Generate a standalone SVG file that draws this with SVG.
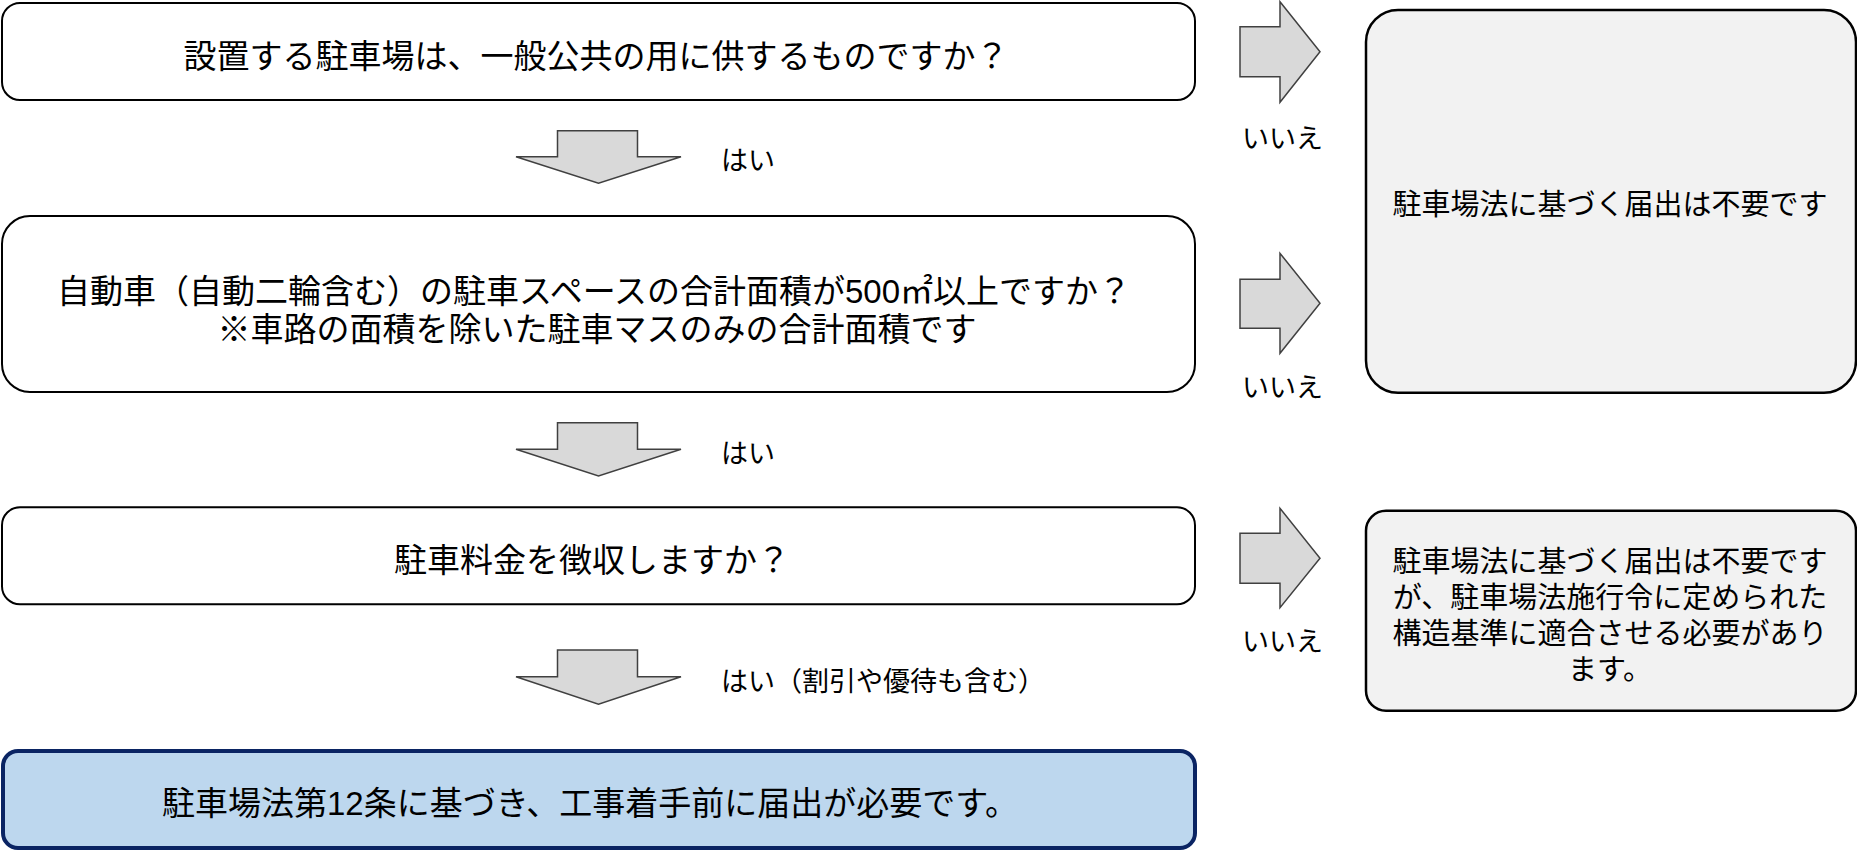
<svg xmlns="http://www.w3.org/2000/svg" width="1857" height="851" viewBox="0 0 1857 851">
<style>
.q{fill:#ffffff;stroke:#000000;stroke-width:2}
.g{fill:#f2f2f2;stroke:#000000;stroke-width:2.5}
.f{fill:#bdd7ee;stroke:#0a2463;stroke-width:4}
.ar{fill:#d9d9d9;stroke:#404040;stroke-width:1.5;stroke-linejoin:miter}
.t{font-family:"Liberation Sans","Noto Sans CJK JP",sans-serif;fill:#000000}
.m{font-size:33px;text-anchor:middle}
.s{font-size:29px;text-anchor:middle}
.l{font-size:27px}
</style>
<rect width="1857" height="851" fill="#ffffff"/>
<g id="connectors">
<polygon class="ar" points="557.5,130.7 637.5,130.7 637.5,156.7 681,156.7 598.5,183.3 516,156.7 557.5,156.7"/>
<polygon class="ar" points="557.5,422.7 637.5,422.7 637.5,449.3 681,449.3 598.5,476 516,449.3 557.5,449.3"/>
<polygon class="ar" points="557.5,650 637.5,650 637.5,676.7 681,676.7 598.5,704.3 516,676.7 557.5,676.7"/>
<polygon class="ar" points="1240,26.7 1280,26.7 1280,1.7 1320,51.7 1280,102.3 1280,76.7 1240,76.7"/>
<polygon class="ar" points="1240,279.3 1280,279.3 1280,253.3 1320,303.3 1280,353.3 1280,328.3 1240,328.3"/>
<polygon class="ar" points="1240,533.3 1280,533.3 1280,508.3 1320,558.3 1280,607.7 1280,583.3 1240,583.3"/>
<text class="t l" x="721" y="170">はい</text>
<text class="t l" x="721" y="463">はい</text>
<text class="t l" x="721" y="691">はい（割引や優待も含む）</text>
<text class="t l" x="1242" y="148">いいえ</text>
<text class="t l" x="1242" y="397">いいえ</text>
<text class="t l" x="1242" y="651">いいえ</text>
</g>
<g id="q1">
<rect class="q" x="2" y="3" width="1193" height="97" rx="18" ry="18"/>
<text class="t m" x="596" y="67.5">設置する駐車場は、一般公共の用に供するものですか？</text>
</g>
<g id="q2">
<rect class="q" x="2" y="216" width="1193" height="176" rx="28" ry="28"/>
<text class="t m"><tspan x="594" y="302.5">自動車（自動二輪含む）の駐車スペースの合計面積が500㎡以上ですか？</tspan><tspan x="597" y="341">※車路の面積を除いた駐車マスのみの合計面積です</tspan></text>
</g>
<g id="q3">
<rect class="q" x="2" y="507.3" width="1193" height="97" rx="18" ry="18"/>
<text class="t m" x="592" y="571.5">駐車料金を徴収しますか？</text>
</g>
<g id="result-required">
<rect class="f" x="3" y="751" width="1192" height="97" rx="15" ry="15"/>
<text class="t m" x="590" y="815">駐車場法第12条に基づき、工事着手前に届出が必要です。</text>
</g>
<g id="result-not-required">
<rect class="g" x="1366" y="10" width="490" height="382.7" rx="32" ry="32"/>
<text class="t s" x="1610" y="215">駐車場法に基づく届出は不要です</text>
</g>
<g id="result-structure">
<rect class="g" x="1366" y="510.7" width="490" height="200" rx="20" ry="20"/>
<text class="t s"><tspan x="1610" y="572">駐車場法に基づく届出は不要です</tspan><tspan x="1610" y="608">が、駐車場法施行令に定められた</tspan><tspan x="1610" y="644">構造基準に適合させる必要があり</tspan><tspan x="1610" y="680">ます。</tspan></text>
</g>
</svg>
